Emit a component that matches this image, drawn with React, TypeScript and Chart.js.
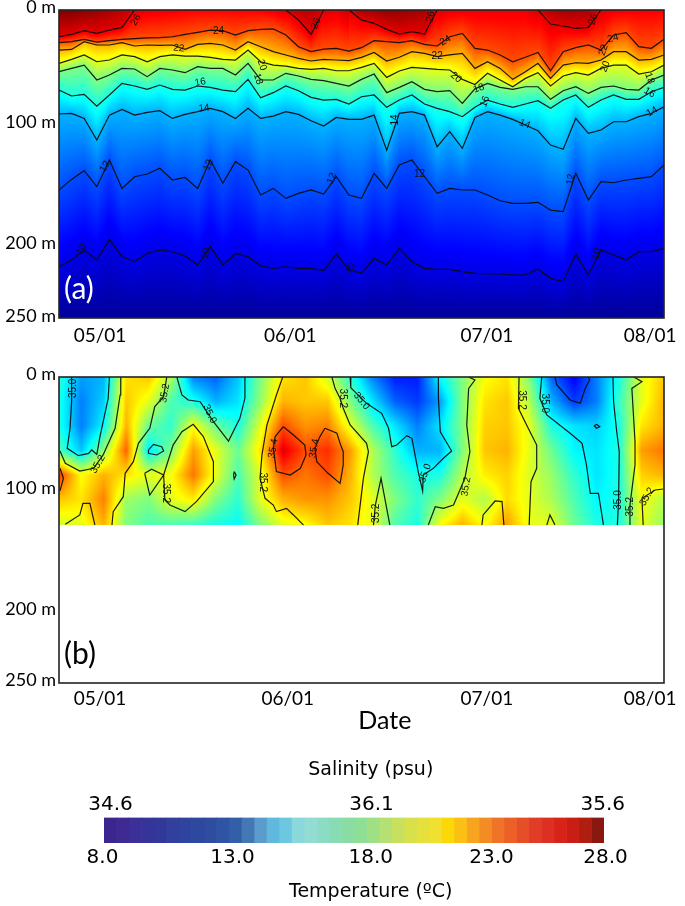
import React, { useEffect, useRef } from "react";
import { Chart, registerables } from "chart.js";

Chart.register(...registerables);

/* ---------- x axis: days, one isotherm column every 2 days ---------- */
const COLUMN_STEP_DAYS = 2;
const X_MAX_DAYS = 96;
const dateLabels = ["05/01", "06/01", "07/01", "08/01"];
const dateTicksA = [6.5, 36.7, 67.9, 93.8];
const dateTicksB = [6.5, 36.3, 67.9, 93.8];
const depthLabels = ["0 m", "100 m", "200 m", "250 m"];
const depthTicksA = [-2.4, 91, 189, 248.4];
const depthTicksB = [-2.5, 90.5, 190, 247.5];

/* ---------- panel (a): isotherm depths (m) ---------- */
const iso26 = [21.7, 19.8, 16.8, 19, 16.3, 14.1, 0, null, null, null, null, null, null, null, null, null, null, null, 0, 8, 19.8, 0, null, 0, 8, 10.8, 15.7, 19.5, 17.6, 19.5, 0, null, null, null, null, null, null, null, 0, 11.4, 13, 14.9, 14.1, 0, null, null, null, null, null];
const iso24 = [26.5, 25.7, 23.8, 26, 24.9, 23.8, 23.3, 22.7, 22.5, 21.7, 19.8, 18.1, 16.3, 16.8, 20.3, 16.8, 15.7, 15.4, 20.3, 29.8, 33.8, 31.7, 31.1, 33.3, 30.6, 24.9, 25.7, 26.5, 24.9, 27.9, 29.2, 21.7, 19, 31.1, 32.5, 36.5, 42, 38.4, 34.4, 49.3, 33.8, 30.6, 28.4, 32.5, 20.3, 18.4, 29.8, 31.1, 23.8];
const iso22 = [32.5, 32, 25.7, 28.4, 28.4, 26.5, 29.2, 28.4, 28.7, 28.4, 32, 27.9, 27.1, 28.4, 32.5, 25.7, 29.8, 33.8, 36.5, 39.3, 41.4, 40.1, 40.6, 41.1, 38.4, 34.4, 41.4, 38.4, 33.8, 35.2, 37.9, 36.5, 35.2, 47.4, 42, 47.4, 56.3, 50.1, 43.3, 55.5, 44.7, 42.8, 43.3, 40.6, 33.8, 33.8, 40.6, 40.1, 36.5];
const iso20 = [43.3, 40.1, 36.5, 42, 40.6, 36.5, 37.9, 42, 37.9, 36.5, 37.4, 37.4, 38.4, 40.1, 40.6, 32.5, 42, 44.7, 45.5, 47.4, 48.2, 47.4, 49.3, 49.3, 46.6, 43.3, 54.7, 49.5, 46.6, 47.4, 48.2, 48.7, 56.3, 60.5, 51.4, 56.8, 62.3, 55.5, 50.9, 61.7, 53.6, 50.9, 52.8, 47.4, 44.7, 44.7, 52, 50.1, 44.7];
const iso18 = [50.1, 47.4, 44.7, 56.8, 52.8, 47.4, 47.9, 54.1, 47.4, 48.7, 50.9, 46, 47.4, 47.4, 52.8, 43.3, 56.8, 56.8, 51.4, 53.6, 56.3, 57.4, 59.6, 61.7, 56.3, 52, 67.1, 62.8, 58.2, 64.4, 66.3, 65.5, 75.8, 64, 59.6, 62.8, 64.4, 62.3, 62.3, 72.5, 65.5, 62.3, 67.7, 62.8, 61.7, 64.4, 65, 56.8, 52.8];
const iso16 = [65, 69.8, 68.5, 78, 69, 59.6, 61.7, 64.4, 60.9, 64.4, 65, 61.7, 62.8, 65, 66.3, 56.3, 71.2, 67.1, 61.7, 65.5, 70.9, 73.1, 72.5, 76.3, 70.4, 69, 79, 73.1, 69, 76.3, 79.8, 82.5, 86.6, 79, 73.1, 76.3, 79, 76.3, 73.6, 79.8, 73.1, 69, 79, 73.1, 69, 72.5, 72.5, 66.3, 62.8];
const iso14 = [84.4, 83.9, 88, 105.6, 85.3, 80.7, 85.3, 83.1, 81.7, 88, 84.7, 82.5, 79.8, 82.5, 88, 79.8, 88, 86.1, 82.5, 84.7, 89.9, 94.2, 87.2, 88.8, 88.8, 85.3, 113.7, 83.9, 82.5, 85.3, 111, 98.8, 112.3, 87.2, 82.5, 85.3, 88.8, 93.4, 98, 109.6, 113.1, 88, 100.1, 97.4, 90.7, 90.7, 86.6, 83.9, 78.5];
const iso12 = [146.1, 137.5, 130.4, 143.4, 121.8, 144.8, 135.3, 133.1, 128.5, 138, 135.9, 144.8, 121.8, 140.7, 123.1, 129.9, 150.2, 144.8, 152.9, 148.8, 146.1, 149.4, 135.3, 150.2, 152.9, 132.6, 144.8, 125.8, 121.8, 135.3, 148.8, 144.8, 146.1, 146.1, 150.2, 154.8, 157, 157, 156.1, 162.4, 163.7, 132.6, 154.3, 139.4, 140.2, 138, 136.7, 135.3, 125.8];
const iso10 = [208.4, 203, 194.8, 203, 186.2, 200.3, 204.3, 197.6, 194.8, 196.2, 199.7, 207, 192.1, 207, 197.6, 200.3, 207.8, 209.7, 208.4, 209.7, 209.7, 211.6, 198.1, 210.5, 213.8, 201.6, 207, 193.5, 204.3, 209.7, 210.5, 210.5, 212.4, 213.8, 214.3, 214.3, 215.1, 215.1, 210.3, 217.8, 220.5, 198.1, 215.1, 194.8, 198.9, 203, 196.2, 196.2, 193.5];
const surfaceTemp = [28, 28, 27.8, 27.5, 27.2, 26.8, 26.2, 25.9, 25.8, 25.7, 25.6, 25.5, 25.5, 25.5, 25.5, 25.6, 25.6, 25.8, 26.3, 26.8, 26.8, 26.2, 25.9, 26.6, 27.2, 27.4, 27.6, 27.6, 27.4, 27.2, 26.2, 25.9, 25.8, 25.8, 25.8, 25.8, 25.8, 25.8, 26.3, 27, 27.3, 27.3, 27.1, 26.2, 25.8, 25.7, 25.6, 25.6, 25.6];
const bottomTemp = 8.5;
const BOTTOM_DEPTH = 250;
const isoLevels = [26, 24, 22, 20, 18, 16, 14, 12, 10];
const isoDepths = [iso26, iso24, iso22, iso20, iso18, iso16, iso14, iso12, iso10];

/* [day, depth, text, rotation in degrees] */
const contourLabelsA: [number, number, string, number][] = [
  [12.2, 8.1, "26", -60], [25.3, 17.1, "24", 0], [19, 31.1, "22", 5], [32.2, 44.7, "20", 70], [31.6, 56, "18", 70],
  [22.4, 58.7, "16", -10], [23, 79.8, "14", -5], [7.3, 127, "12", -60], [23.7, 125.8, "12", -70], [43.3, 136.7, "12", -70],
  [3.6, 194.3, "10", -60], [23.3, 197.6, "10", -80], [40.8, 10.8, "26", -70], [59, 5.4, "26", -80], [84.8, 7.6, "26", -70],
  [61.3, 24.9, "24", -30], [60, 37.4, "22", 0], [63, 54.7, "20", 40], [66.6, 63.6, "18", -20], [67.6, 74.4, "16", -70],
  [53.3, 89.3, "14", -90], [73.9, 92.6, "14", 20], [87.9, 23, "24", -15], [86.4, 32.5, "22", -70], [86.7, 46, "20", -70],
  [93.7, 55.5, "18", 70], [93.7, 67, "16", 30], [94.1, 82.5, "14", -30], [57.2, 133, "12", 0], [81.2, 137.5, "12", -80],
  [46.2, 209.7, "10", -60], [85.3, 197.6, "10", -80],
];

/* ---------- panel (b): salinity (psu); one row of numbers per column ---------- */
const salinityDepths = [0, 20, 40, 60, 80, 100, 121];
const salinityDays = [0, 3.555, 7.11, 10.665, 14.22, 17.775, 21.33, 24.885, 28.44, 31.995, 35.55, 39.105, 42.66, 46.215, 49.77, 53.325, 56.88, 60.435, 63.99, 67.545, 71.1, 74.655, 78.21, 81.765, 85.32, 88.875, 92.43, 96];
const salinityColumns = [
  [35.02, 35.0, 35.0, 35.05, 35.42, 35.28, 35.18],
  [34.88, 34.85, 34.85, 34.92, 35.22, 35.25, 35.2],
  [34.9, 34.93, 34.97, 35.12, 35.3, 35.35, 35.3],
  [35.25, 35.28, 35.3, 35.38, 35.25, 35.13, 35.1],
  [35.28, 35.2, 35.08, 34.95, 35.2, 35.1, 35.05],
  [35.15, 35.05, 35.02, 35.1, 35.22, 35.2, 35.05],
  [34.85, 35.0, 35.22, 35.32, 35.36, 35.24, 35.03],
  [34.82, 34.9, 35.08, 35.2, 35.2, 35.1, 35.0],
  [34.92, 34.95, 35.0, 35.08, 35.05, 35.02, 34.98],
  [35.1, 35.12, 35.2, 35.25, 35.2, 35.2, 35.1],
  [35.25, 35.3, 35.4, 35.5, 35.4, 35.3, 35.2],
  [35.28, 35.28, 35.33, 35.4, 35.36, 35.33, 35.22],
  [35.18, 35.28, 35.35, 35.43, 35.4, 35.33, 35.28],
  [35.02, 35.1, 35.2, 35.32, 35.3, 35.28, 35.25],
  [34.85, 34.95, 35.05, 35.15, 35.15, 35.2, 35.2],
  [34.75, 34.82, 34.95, 35.02, 35.05, 35.1, 35.05],
  [34.75, 34.78, 34.85, 34.9, 35.0, 35.02, 35.0],
  [34.98, 34.88, 34.95, 34.9, 35.0, 35.1, 35.22],
  [35.1, 35.1, 35.1, 35.1, 35.15, 35.2, 35.3],
  [35.22, 35.25, 35.27, 35.28, 35.24, 35.15, 35.22],
  [35.25, 35.28, 35.28, 35.3, 35.27, 35.26, 35.32],
  [35.1, 35.15, 35.2, 35.2, 35.19, 35.2, 35.2],
  [34.82, 34.9, 35.0, 35.08, 35.12, 35.14, 35.2],
  [34.72, 34.78, 34.95, 34.97, 35.02, 35.05, 35.08],
  [34.85, 34.85, 34.93, 34.95, 34.95, 34.97, 35.0],
  [35.0, 35.03, 35.0, 35.0, 35.0, 35.0, 35.0],
  [35.2, 35.2, 35.25, 35.32, 35.27, 35.22, 35.2],
  [35.28, 35.3, 35.3, 35.36, 35.3, 35.15, 35.12],
];
const SALINITY_MIN = 34.6;
const SALINITY_SPAN = 1.0;

/* salinity contours, each a list of [day, depth] */
const salinityContours: [number, number][][] = [
  [[2, 0], [2, 20.2], [1.75, 41.9], [1.3, 58.3], [3.1, 64.3], [4.7, 62.4], [5.2, 59.6], [6, 63.2], [6.5, 48.7], [7.8, 17.4], [8, 0]],
  [[0.16, 60.5], [1, 70.5], [3.3, 76.8], [5.5, 74.6], [7, 63.7], [8.9, 41.9], [9.7, 14.7], [9.8, 0]],
  [[0.16, 74.6], [0.7, 82.8], [0.16, 93.1]],
  [[1, 120.4], [3.3, 112.7], [3.8, 103.2], [4.9, 103.2], [5.7, 121]],
  [[17.1, 0], [16.6, 16.1], [15.2, 24.2], [14.4, 41.9], [12.6, 54.2], [11.8, 69.2], [10.5, 78.7], [10.2, 97.8], [8.6, 110], [8.4, 121]],
  [[18.7, 0], [19.5, 14.7], [20.5, 18.8], [22.4, 20.2], [24.5, 36.5], [26.9, 52.3], [28.7, 33.8], [29.5, 17.4], [29.5, 0]],
  [[14.2, 59.6], [15, 55], [16.3, 56.9], [16.6, 60.5], [15.5, 63.7], [14.2, 62.4], [14.2, 59.6]],
  [[13.6, 78.7], [14.7, 75.4], [16.6, 80.1], [14.4, 96.4], [13.6, 78.7]],
  [[16.6, 80.1], [18.1, 55.6], [19.5, 44.7], [21.3, 38.7], [22.9, 48.7], [24.5, 69.2], [24.5, 85.5], [21.8, 101.8], [20, 110], [17.6, 104.6], [16.8, 100.5], [16.6, 80.1]],
  [[27.8, 77.3], [28.1, 80.1], [27.8, 83.3], [27.7, 80.1], [27.8, 77.3]],
  [[35.5, 0], [34.5, 14.7], [33, 39.2], [32.2, 63.7], [31.9, 82.8], [32.7, 99.1], [34, 104.6], [34.5, 110], [36.1, 107.3], [37.2, 112.7], [38.8, 121]],
  [[35.6, 40.6], [37.2, 47.4], [39, 55.6], [39.2, 63.7], [38.3, 74.6], [36.7, 80.1], [34.5, 77.3], [34.3, 69.2], [34, 58.3], [34.3, 48.7], [35.6, 40.6]],
  [[42.2, 41.9], [44.1, 46], [44.6, 54.2], [45.1, 61], [45.1, 71.9], [44.6, 86.9], [42.7, 78.7], [40.9, 69.2], [40.6, 58.3], [41.4, 48.7], [42.2, 41.9]],
  [[43.3, 0], [43.8, 9.3], [44.6, 17.4], [45.1, 25.6], [46.2, 39.2], [48.8, 54.2], [49.1, 61], [48.3, 82.8], [47.4, 121]],
  [[46.2, 0], [46.3, 8.7], [48.8, 21.5], [51.2, 29.7], [52.3, 41.9], [52.8, 56.9], [53.6, 55.6], [55.2, 47.9], [56, 50.1], [57, 77.3], [57.7, 93.1], [57.8, 80.1], [59.4, 74.6], [61, 66.4], [62.3, 60.5], [60.5, 44.7], [60.2, 17.4], [60.2, 0]],
  [[65, 0], [66, 2.5], [65, 9.3], [64.7, 39.2], [65.2, 61], [64.4, 82.8], [63.4, 95], [62.6, 104.6], [61, 107.3], [59.7, 106], [58.6, 121]],
  [[49.9, 121], [50.2, 104.6], [51.1, 82.8], [51.7, 99.1], [52.5, 121]],
  [[67.1, 121], [67.3, 112.7], [69.2, 101.3], [70.3, 101.8], [70.6, 121]],
  [[73, 0], [72.9, 25.6], [74.2, 39.2], [75.8, 55.6], [75.8, 74.6], [74.9, 85.5], [74.6, 121]],
  [[76.6, 0], [76.3, 17.4], [77.4, 31], [81.1, 46], [83, 54.2], [83.7, 71.9], [84.3, 95], [85.6, 95], [86.4, 121]],
  [[78.7, 0], [79, 6.5], [81.1, 18.8], [82.7, 21.5], [83.5, 9.3], [84.2, 2.5], [84, 0]],
  [[84.9, 39.8], [85.3, 38.7], [85.8, 40.6], [85.3, 41.9], [84.9, 39.8]],
  [[87.9, 0], [88, 20.2], [88.5, 44.7], [88.9, 61], [88.8, 99.1], [88.6, 121]],
  [[91.2, 0], [92.5, 3.8], [90.9, 9.3], [91.4, 52.8], [91.4, 71.9], [90.6, 104.6], [90.6, 121]],
  [[92.7, 121], [92.5, 99.1], [94.6, 92.3], [95.9, 91.5]],
  [[77.4, 121], [77.9, 112.7], [78.7, 121]],
];
const contourLabelsB: [number, number, string, number][] = [
  [2.2, 9.3, "35.0", -90], [16.8, 13.3, "35.2", -80], [23.9, 30.2, "35.0", 65], [6.2, 71.3, "35.2", -60],
  [34, 58.3, "35.4", -80], [40.5, 58.3, "35.4", -80], [32.4, 86, "35.2", 90], [17, 95, "35.2", 90],
  [45, 17.4, "35.2", 90], [48, 19.6, "35.0", 50], [58.1, 78.7, "35.0", -70], [64.6, 89.6, "35.2", -80],
  [50.3, 111.4, "35.2", -90], [73.4, 18.8, "35.2", 90], [77, 21.5, "35.0", 90], [88.8, 100.5, "35.0", -90],
  [90.7, 106, "35.2", -90], [93.3, 97.8, "35.2", -60],
];

/* ---------- colour bar ---------- */
const barTemps = [8, 8.5, 9, 9.5, 10, 10.5, 11, 11.5, 12, 12.5, 13, 13.5, 14, 14.5, 15, 15.5, 16, 16.5, 17, 17.5, 18, 18.5, 19, 19.5, 20, 20.5, 21, 21.5, 22, 22.5, 23, 23.5, 24, 24.5, 25, 25.5, 26, 26.5, 27, 27.5, 28];
const barColors = ["#3a268c", "#3e2a92", "#3a3098", "#363498", "#32389a", "#30409c", "#2f449e", "#2e48a0", "#2e4ca0", "#2f54a4", "#3260a8", "#4478b4", "#5a9ccc", "#60b8dc", "#6cc8e0", "#8ad8dc", "#92dcd4", "#8cdcc4", "#88dcb4", "#88dca4", "#8ede94", "#a0e084", "#b4e074", "#c8e060", "#d8e04c", "#e6e03c", "#f0e030", "#fcd808", "#fcc014", "#f8a420", "#f48c24", "#f07428", "#ec6028", "#e64e28", "#e03c28", "#dc3024", "#d82418", "#c81e14", "#b01e12", "#881810"];
const salinityBarLabels = ["34.6", "36.1", "35.6"];
const salinityBarTicks = [8.26, 18.7, 27.95];
const tempBarLabels = ["8.0", "13.0", "18.0", "23.0", "28.0"];
const tempBarTicks = [7.94, 13.14, 18.67, 23.5, 28.06];
const TITLE_CENTER_TEMP = 18.67;

/* ---------- helpers ---------- */
const clamp01 = (v: number) => Math.max(0, Math.min(1, v));
const jet = (t: number) => [
  255 * clamp01(1.5 - Math.abs(4 * t - 3)),
  255 * clamp01(1.5 - Math.abs(4 * t - 2)),
  255 * clamp01(1.5 - Math.abs(4 * t - 1)),
];

function temperatureAt(day: number, depth: number) {
  const p = Math.max(0, Math.min(iso24.length - 1.0001, day / COLUMN_STEP_DAYS));
  const i = Math.floor(p);
  const f = p - i;
  let prevD = 0;
  let prevT = surfaceTemp[i] * (1 - f) + surfaceTemp[i + 1] * f;
  for (let k = 0; k < isoLevels.length; k++) {
    const a = isoDepths[k][i];
    const b = isoDepths[k][i + 1];
    if (a === null || b === null) continue;
    const d = a * (1 - f) + b * f;
    if (d <= prevD) continue;
    if (depth <= d) return prevT + ((isoLevels[k] - prevT) * (depth - prevD)) / (d - prevD);
    prevD = d;
    prevT = isoLevels[k];
  }
  return prevT + ((bottomTemp - prevT) * (depth - prevD)) / (BOTTOM_DEPTH - prevD);
}

function salinityAt(day: number, depth: number) {
  const last = salinityDepths[salinityDepths.length - 1];
  if (depth > last + 0.2) return null;
  let c = 0;
  while (c < salinityDays.length - 2 && salinityDays[c + 1] < day) c++;
  let r = 0;
  while (r < salinityDepths.length - 2 && salinityDepths[r + 1] < depth) r++;
  const fx = clamp01((day - salinityDays[c]) / (salinityDays[c + 1] - salinityDays[c]));
  const fy = clamp01((depth - salinityDepths[r]) / (salinityDepths[r + 1] - salinityDepths[r]));
  const top = salinityColumns[c][r] * (1 - fx) + salinityColumns[c + 1][r] * fx;
  const bot = salinityColumns[c][r + 1] * (1 - fx) + salinityColumns[c + 1][r + 1] * fx;
  return top * (1 - fy) + bot * fy;
}

function heatPlugin(toT: (day: number, depth: number) => number | null) {
  return {
    id: "heat",
    beforeDatasetsDraw(chart: any) {
      const { left, top, right, bottom } = chart.chartArea;
      const xs = chart.scales.x;
      const ys = chart.scales.y;
      const w = Math.round(right - left);
      const h = Math.round(bottom - top);
      const off = document.createElement("canvas");
      off.width = w;
      off.height = h;
      const octx = off.getContext("2d")!;
      const img = octx.createImageData(w, h);
      for (let py = 0; py < h; py++) {
        const depth = ys.getValueForPixel(top + py + 0.5);
        for (let px = 0; px < w; px++) {
          const day = xs.getValueForPixel(left + px + 0.5);
          const t = toT(day, depth);
          if (t === null) continue;
          const [r, g, b] = jet(t);
          const o = (py * w + px) * 4;
          img.data[o] = r;
          img.data[o + 1] = g;
          img.data[o + 2] = b;
          img.data[o + 3] = 255;
        }
      }
      octx.putImageData(img, 0, 0);
      chart.ctx.drawImage(off, left, top);
    },
  };
}

function annotatePlugin(labels: [number, number, string, number][], letter: string, letterDepth: number, letterColor: string, axisTitle?: string, axisTitleDay?: number) {
  return {
    id: "annotate",
    afterDatasetsDraw(chart: any) {
      const { ctx, chartArea } = chart;
      const xs = chart.scales.x;
      const ys = chart.scales.y;
      ctx.save();
      ctx.fillStyle = "#111";
      ctx.font = '10px "Liberation Sans"';
      ctx.textAlign = "center";
      ctx.textBaseline = "middle";
      for (const [day, depth, text, rot] of labels) {
        ctx.save();
        ctx.translate(xs.getPixelForValue(day), ys.getPixelForValue(depth));
        ctx.rotate((rot * Math.PI) / 180);
        ctx.fillText(text, 0, 0);
        ctx.restore();
      }
      ctx.fillStyle = letterColor;
      ctx.font = "30px Lato";
      ctx.textAlign = "left";
      ctx.fillText(letter, chartArea.left + 5, ys.getPixelForValue(letterDepth));
      ctx.strokeStyle = "#222";
      ctx.lineWidth = 1.6;
      ctx.strokeRect(chartArea.left, chartArea.top, chartArea.right - chartArea.left, chartArea.bottom - chartArea.top);
      if (axisTitle) {
        ctx.fillStyle = "#000";
        ctx.font = "25px Lato";
        ctx.textAlign = "center";
        ctx.fillText(axisTitle, xs.getPixelForValue(axisTitleDay), chartArea.bottom + 38);
      }
      ctx.restore();
    },
  };
}

const barTitlesPlugin = {
  id: "barTitles",
  afterDraw(chart: any) {
    const { ctx, chartArea } = chart;
    const cx = chart.scales.x.getPixelForValue(TITLE_CENTER_TEMP);
    ctx.save();
    ctx.fillStyle = "#000";
    ctx.font = '19px "DejaVu Sans"';
    ctx.textAlign = "center";
    ctx.textBaseline = "middle";
    ctx.fillText("Salinity (psu)", cx, chartArea.top - 47);
    ctx.fillText("Temperature (ºC)", cx, chartArea.bottom + 49);
    ctx.restore();
  },
};

const noPadH = (s: any) => { s.paddingLeft = 0; s.paddingRight = 0; };
const noPadV = (s: any) => { s.paddingTop = 0; s.paddingBottom = 0; };

function panelOptions(dateTicks: number[], depthTicks: number[], topPad: number, xHeight: number, tickPad: number) {
  return {
    responsive: false,
    animation: false as const,
    layout: { padding: { left: 0, right: 21, top: topPad, bottom: 0 } },
    plugins: { legend: { display: false }, tooltip: { enabled: false } },
    scales: {
      x: {
        type: "linear" as const,
        min: 0,
        max: X_MAX_DAYS,
        grid: { display: false, drawTicks: false },
        border: { display: false },
        afterBuildTicks: (s: any) => { s.ticks = dateTicks.map((value) => ({ value })); },
        afterFit: (s: any) => { s.height = xHeight; noPadH(s); },
        ticks: {
          autoSkip: false, maxRotation: 0, minRotation: 0, color: "#000", font: { family: "Lato", size: 19 }, padding: tickPad,
          callback: (_v: any, i: number) => dateLabels[i],
        },
      },
      y: {
        type: "linear" as const,
        reverse: true,
        min: 0,
        max: BOTTOM_DEPTH,
        grid: { display: false, drawTicks: false },
        border: { display: false },
        afterBuildTicks: (s: any) => { s.ticks = depthTicks.map((value) => ({ value })); },
        afterFit: (s: any) => { s.width = 59; noPadV(s); },
        ticks: {
          autoSkip: false, color: "#000", font: { family: "Lato", size: 18 }, padding: 3,
          callback: (_v: any, i: number) => depthLabels[i],
        },
      },
    },
  };
}

const lineStyle = { showLine: true, pointRadius: 0, borderWidth: 1.2, borderColor: "rgba(10,10,10,0.92)", backgroundColor: "transparent", tension: 0, spanGaps: false };
const barTickFont = { family: "DejaVu Sans", size: 20 };

export default function App() {
  const refA = useRef<HTMLCanvasElement>(null);
  const refB = useRef<HTMLCanvasElement>(null);
  const refC = useRef<HTMLCanvasElement>(null);

  useEffect(() => {
    const chartA = new Chart(refA.current!, {
      type: "scatter",
      data: {
        datasets: isoDepths.map((series, k) => ({
          label: String(isoLevels[k]),
          data: series.map((y, i) => ({ x: i * COLUMN_STEP_DAYS, y })),
          ...lineStyle,
        })),
      },
      options: panelOptions(dateTicksA, depthTicksA, 10, 32, 6) as any,
      plugins: [
        heatPlugin((d, z) => (temperatureAt(d, z) - 8) / 20),
        annotatePlugin(contourLabelsA, "(a)", 226.5, "#fff"),
      ],
    });
    const chartB = new Chart(refB.current!, {
      type: "scatter",
      data: {
        datasets: salinityContours.map((pts, k) => ({
          label: "s" + k,
          data: pts.map(([x, y]) => ({ x, y })),
          ...lineStyle,
        })),
      },
      options: panelOptions(dateTicksB, depthTicksB, 12, 57, 4) as any,
      plugins: [
        heatPlugin((d, z) => {
          const s = salinityAt(d, z);
          return s === null ? null : (s - SALINITY_MIN) / SALINITY_SPAN;
        }),
        annotatePlugin(contourLabelsB, "(b)", 226.3, "#000", "Date", 51.7),
      ],
    });
    const chartC = new Chart(refC.current!, {
      type: "bar",
      data: {
        labels: ["bar"],
        datasets: barColors.map((c, i) => ({
          label: "b" + i,
          data: [[barTemps[i], barTemps[i + 1]]] as any,
          backgroundColor: c,
          borderWidth: 0,
          barPercentage: 1,
          categoryPercentage: 1,
          grouped: false,
          xAxisID: "x",
        })),
      },
      options: {
        indexAxis: "y",
        responsive: false,
        animation: false,
        layout: { padding: { left: 104, right: 81, top: 0, bottom: 0 } },
        plugins: { legend: { display: false }, tooltip: { enabled: false } },
        scales: {
          y: { display: false },
          x: {
            type: "linear", position: "bottom", min: 8, max: 28,
            grid: { display: false, drawTicks: false }, border: { display: false },
            afterBuildTicks: (s: any) => { s.ticks = tempBarTicks.map((value) => ({ value })); },
            afterFit: (s: any) => { s.height = 63; noPadH(s); },
            ticks: { autoSkip: false, maxRotation: 0, color: "#000", font: barTickFont, padding: 3, callback: (_v: any, i: number) => tempBarLabels[i] },
          },
          x2: {
            type: "linear", position: "top", min: 8, max: 28,
            grid: { display: false, drawTicks: false }, border: { display: false },
            afterBuildTicks: (s: any) => { s.ticks = salinityBarTicks.map((value) => ({ value })); },
            afterFit: (s: any) => { s.height = 67.5; noPadH(s); },
            ticks: { autoSkip: false, maxRotation: 0, color: "#000", font: barTickFont, padding: 1, callback: (_v: any, i: number) => salinityBarLabels[i] },
          },
        },
      } as any,
      plugins: [barTitlesPlugin],
    });
    return () => {
      chartA.destroy();
      chartB.destroy();
      chartC.destroy();
    };
  }, []);

  const abs = (top: number, height: number) => ({ position: "absolute" as const, left: 0, top, width: 685, height });
  return (
    <div style={{ position: "absolute", left: 0, top: 0, width: 685, height: 906, background: "#fff", overflow: "hidden" }}>
      <canvas ref={refA} width={685} height={350} style={abs(0, 350)} />
      <canvas ref={refB} width={685} height={375} style={abs(365, 375)} />
      <canvas ref={refC} width={685} height={156} style={abs(750, 156)} />
    </div>
  );
}
